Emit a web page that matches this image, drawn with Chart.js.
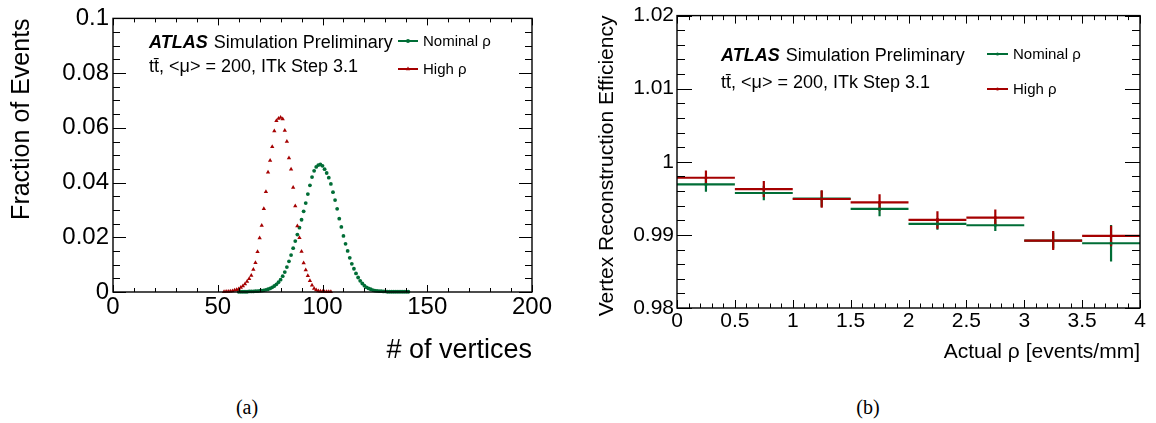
<!DOCTYPE html>
<html>
<head>
<meta charset="utf-8">
<script src="https://cdn.jsdelivr.net/npm/chart.js@4.4.1/dist/chart.umd.min.js"></script>
<style>
  body { margin: 0; background: #fff; width: 1156px; height: 423px; position: relative; overflow: hidden; }
  canvas { position: absolute; top: 0; }
  #ca { left: 0; }
  #cb { left: 580px; }
  .cap { position: absolute; top: 396px; width: 60px; text-align: center; font: 20px "Liberation Serif", "Times New Roman", serif; color: #000; }
</style>
</head>
<body>
<canvas id="ca" width="580" height="380"></canvas>
<canvas id="cb" width="576" height="380"></canvas>
<div class="cap" style="left:217px">(a)</div>
<div class="cap" style="left:838px">(b)</div>
<script>
// (a) number of reconstructed vertices, one point per bin
const vtxBinsNominal = [60, 61, 62, 63, 64, 65, 66, 67, 68, 69, 70, 71, 72, 73, 74, 75, 76, 77, 78, 79,
  80, 81, 82, 83, 84, 85, 86, 87, 88, 89, 90, 91, 92, 93, 94, 95, 96, 97, 98, 99,
  100, 101, 102, 103, 104, 105, 106, 107, 108, 109, 110, 111, 112, 113, 114, 115, 116, 117, 118, 119,
  120, 121, 122, 123, 124, 125, 126, 127, 128, 129, 130, 131, 132, 133, 134, 135, 136, 137, 138, 139, 140, 141]
const fracNominal = [0.0001, 0.0001, 0.0001, 0.0001, 0.0001,
  0.0002, 0.0002, 0.0002, 0.0003, 0.0003,
  0.0004, 0.0005, 0.0006, 0.0008, 0.0010,
  0.0013, 0.0017, 0.0022, 0.0028, 0.0036,
  0.0045, 0.0058, 0.0073, 0.0091, 0.0112,
  0.0135, 0.0160, 0.0186, 0.0210, 0.0235,
  0.0264, 0.0295, 0.0325, 0.0358, 0.0390,
  0.0420, 0.0443, 0.0457, 0.0464, 0.0466,
  0.0461, 0.0449, 0.0435, 0.0418, 0.0395,
  0.0365, 0.0336, 0.0304, 0.0268, 0.0238,
  0.0205, 0.0176, 0.0150, 0.0125, 0.0103,
  0.0085, 0.0068, 0.0053, 0.0041, 0.0031,
  0.0023, 0.0017, 0.0013, 0.0010, 0.0007,
  0.0005, 0.0004, 0.0003, 0.0003, 0.0002,
  0.0002, 0.0001, 0.0001, 0.0001, 0.0001,
  0.0001, 0.0001, 0.0001, 0.0001, 0.0001, 0.0001, 0.0001]
const vtxBinsHigh = [53, 54, 55, 56, 57, 58, 59, 60, 61, 62, 63, 64, 65, 66, 67, 68, 69, 70, 71, 72,
  73, 74, 75, 76, 77, 78, 79, 80, 81, 82, 83, 84, 85, 86, 87, 88, 89, 90, 91, 92,
  93, 94, 95, 96, 97, 98, 99, 100, 101, 102, 103, 104]
const fracHigh = [0.0001, 0.0002, 0.0002, 0.0003, 0.0004, 0.0006, 0.0008, 0.0011, 0.0016, 0.0022,
  0.0029, 0.0038, 0.0048, 0.0060, 0.0082, 0.0107, 0.0147, 0.0197, 0.0243, 0.0304,
  0.0366, 0.0438, 0.0481, 0.0531, 0.0588, 0.0626, 0.0634, 0.0638, 0.0632, 0.0590,
  0.0550, 0.0490, 0.0449, 0.0382, 0.0314, 0.0241, 0.0198, 0.0148, 0.0106, 0.0080,
  0.0059, 0.0041, 0.0025, 0.0013, 0.0007, 0.0004, 0.0003, 0.0002, 0.0001, 0.0001,
  0.0001, 0.0001]

// (b) efficiency vs actual rho
const rhoEdges = [0, 0.5, 1, 1.5, 2, 2.5, 3, 3.5, 4]
const effNominal = [0.99691, 0.99573, 0.99495, 0.99355, 0.99150, 0.99132, 0.98923, 0.98886]
const errNominal = [0.0010, 0.0010, 0.0011, 0.0010, 0.0008, 0.0008, 0.0011, 0.0025]
const effHigh = [0.99782, 0.99627, 0.99491, 0.99445, 0.99205, 0.99236, 0.98923, 0.98986]
const errHigh = [0.0010, 0.0011, 0.0012, 0.0011, 0.0012, 0.0011, 0.0013, 0.0014]

const GREEN = '#006d36'
const RED = '#a50000'
const FONT = '"Liberation Sans", Arial, Helvetica, sans-serif'

Chart.defaults.font.family = FONT
Chart.defaults.color = '#000'

const fmt = v => String(+v.toFixed(3))

// ROOT-like frame, inner ticks on all four sides, labels and legend
function drawTicks(ctx, scale, area, s, horizontal) {
  const n = Math.round((s.max - s.min) / s.minor)
  ctx.beginPath()
  for (let i = 0; i <= n; i++) {
    const v = s.min + i * s.minor
    const r = v / s.major
    const len = Math.abs(r - Math.round(r)) < 1e-6 ? s.majLen : s.minLen
    const p = Math.round(scale.getPixelForValue(v)) + 0.5
    if (horizontal) {
      ctx.moveTo(p, area.bottom); ctx.lineTo(p, area.bottom - len)
      ctx.moveTo(p, area.top); ctx.lineTo(p, area.top + len)
    } else {
      ctx.moveTo(area.left, p); ctx.lineTo(area.left + len, p)
      ctx.moveTo(area.right, p); ctx.lineTo(area.right - len, p)
    }
  }
  ctx.stroke()
}

const rootDeco = {
  id: 'rootDeco',
  beforeDatasetsDraw(chart) {
    const ctx = chart.ctx
    const xs = chart.scales.x, ys = chart.scales.y
    ctx.save()
    // nominal first, high on top
    chart.data.datasets.slice().reverse().forEach(ds => {
      if (!ds.binEdges) return
      ctx.strokeStyle = ds.borderColor
      ctx.lineWidth = 2.2
      ds.data.forEach((pt, i) => {
        const y = ys.getPixelForValue(pt.y)
        const xc = xs.getPixelForValue(pt.x)
        ctx.beginPath()
        ctx.moveTo(xs.getPixelForValue(ds.binEdges[i]), y)
        ctx.lineTo(xs.getPixelForValue(ds.binEdges[i + 1]), y)
        ctx.moveTo(xc, ys.getPixelForValue(pt.y + ds.yErr[i]))
        ctx.lineTo(xc, ys.getPixelForValue(pt.y - ds.yErr[i]))
        ctx.stroke()
      })
    })
    ctx.restore()
  },
  afterDraw(chart, args, o) {
    const ctx = chart.ctx
    const a = chart.chartArea
    ctx.save()
    ctx.strokeStyle = '#000'
    ctx.lineWidth = 1
    drawTicks(ctx, chart.scales.x, a, o.xt, true)
    drawTicks(ctx, chart.scales.y, a, o.yt, false)
    ctx.lineWidth = 1.4
    ctx.strokeRect(a.left, a.top, a.right - a.left, a.bottom - a.top)

    // ATLAS label
    ctx.fillStyle = '#000'
    ctx.textBaseline = 'alphabetic'
    ctx.textAlign = 'left'
    ctx.font = 'italic bold 18px ' + FONT
    ctx.fillText('ATLAS', o.tx, o.ty1)
    const w = ctx.measureText('ATLAS').width
    ctx.font = '18px ' + FONT
    ctx.fillText('Simulation Preliminary', o.tx + w + 6, o.ty1)
    ctx.fillText('tt\u0304, <\u03bc> = 200, ITk Step 3.1', o.tx, o.ty2)

    // legend
    ctx.font = '15px ' + FONT
    o.legend.forEach(it => {
      ctx.strokeStyle = it.color
      ctx.fillStyle = it.color
      ctx.lineWidth = 2
      ctx.beginPath()
      ctx.moveTo(o.lx0, it.y); ctx.lineTo(o.lx1, it.y)
      ctx.stroke()
      Chart.helpers.drawPoint(ctx, { pointStyle: it.style, radius: it.r, rotation: 0, borderWidth: 0 }, (o.lx0 + o.lx1) / 2, it.y)
      ctx.fillStyle = '#000'
      ctx.fillText(it.label, o.lx1 + 5, it.y + 5)
    })
    ctx.restore()
  }
}

new Chart(document.getElementById('ca'), {
  type: 'scatter',
  data: {
    datasets: [
      {
        label: 'High \u03c1',
        data: vtxBinsHigh.map((b, i) => ({ x: b, y: fracHigh[i] })),
        pointStyle: 'triangle',
        pointRadius: 2.5,
        backgroundColor: RED,
        borderColor: RED,
        borderWidth: 0
      },
      {
        label: 'Nominal \u03c1',
        data: vtxBinsNominal.map((b, i) => ({ x: b, y: fracNominal[i] })),
        pointStyle: 'circle',
        pointRadius: 1.9,
        backgroundColor: GREEN,
        borderColor: GREEN,
        borderWidth: 0
      }
    ]
  },
  options: {
    responsive: false,
    animation: false,
    clip: false,
    layout: { padding: { top: 14.5, right: 48, left: 0, bottom: 0 } },
    plugins: {
      legend: { display: false },
      tooltip: { enabled: false },
      rootDeco: {
        xt: { min: 0, max: 200, major: 50, minor: 10, majLen: 7, minLen: 4 },
        yt: { min: 0, max: 0.1, major: 0.02, minor: 0.005, majLen: 13, minLen: 7 },
        tx: 149, ty1: 48, ty2: 72,
        lx0: 398, lx1: 418,
        legend: [
          { label: 'Nominal \u03c1', color: GREEN, style: 'circle', r: 2, y: 41 },
          { label: 'High \u03c1', color: RED, style: 'triangle', r: 2.5, y: 69 }
        ]
      }
    },
    scales: {
      x: {
        type: 'linear', min: 0, max: 200,
        afterFit: s => { s.height = 88 },
        grid: { display: false, drawTicks: false },
        border: { display: false },
        ticks: { stepSize: 50, autoSkip: false, maxRotation: 0, padding: 1, font: { size: 24 }, callback: fmt },
        title: { display: true, text: '# of vertices', align: 'end', font: { size: 27 }, padding: { top: 0, bottom: 13 } }
      },
      y: {
        type: 'linear', min: 0, max: 0.1,
        afterFit: s => { s.width = 113 },
        grid: { display: false, drawTicks: false },
        border: { display: false },
        ticks: { stepSize: 0.02, autoSkip: false, padding: 4, font: { size: 24 }, callback: fmt },
        title: { display: true, text: 'Fraction of Events', align: 'end', font: { size: 25 }, padding: { top: 7, bottom: 0 } }
      }
    }
  },
  plugins: [rootDeco]
})

const binCentre = i => (rhoEdges[i] + rhoEdges[i + 1]) / 2

new Chart(document.getElementById('cb'), {
  type: 'scatter',
  data: {
    datasets: [
      {
        label: 'High \u03c1',
        data: effHigh.map((v, i) => ({ x: binCentre(i), y: v })),
        binEdges: rhoEdges,
        yErr: errHigh,
        pointRadius: 1.6,
        backgroundColor: RED,
        borderColor: RED,
        borderWidth: 0
      },
      {
        label: 'Nominal \u03c1',
        data: effNominal.map((v, i) => ({ x: binCentre(i), y: v })),
        binEdges: rhoEdges,
        yErr: errNominal,
        pointRadius: 1.6,
        backgroundColor: GREEN,
        borderColor: GREEN,
        borderWidth: 0
      }
    ]
  },
  options: {
    responsive: false,
    animation: false,
    layout: { padding: { top: 14.3, right: 16, left: 0, bottom: 0 } },
    plugins: {
      legend: { display: false },
      tooltip: { enabled: false },
      rootDeco: {
        xt: { min: 0, max: 4, major: 0.5, minor: 0.1, majLen: 8, minLen: 4.5 },
        yt: { min: 0.98, max: 1.02, major: 0.01, minor: 0.002, majLen: 15, minLen: 8 },
        tx: 141, ty1: 61, ty2: 88,
        lx0: 407, lx1: 428,
        legend: [
          { label: 'Nominal \u03c1', color: GREEN, style: 'circle', r: 1.6, y: 54 },
          { label: 'High \u03c1', color: RED, style: 'circle', r: 1.6, y: 89 }
        ]
      }
    },
    scales: {
      x: {
        type: 'linear', min: 0, max: 4,
        afterFit: s => { s.height = 72 },
        grid: { display: false, drawTicks: false },
        border: { display: false },
        ticks: { stepSize: 0.5, autoSkip: false, maxRotation: 0, padding: 1, font: { size: 21 }, callback: fmt },
        title: { display: true, text: 'Actual \u03c1 [events/mm]', align: 'end', font: { size: 21 }, padding: { top: 0, bottom: 15 } }
      },
      y: {
        type: 'linear', min: 0.98, max: 1.02,
        afterFit: s => { s.width = 97 },
        grid: { display: false, drawTicks: false },
        border: { display: false },
        ticks: { stepSize: 0.01, autoSkip: false, padding: 3, font: { size: 21 }, callback: fmt },
        title: { display: true, text: 'Vertex Reconstruction Efficiency', align: 'end', font: { size: 21 }, padding: { top: 15, bottom: 0 } }
      }
    }
  },
  plugins: [rootDeco]
})
</script>
</body>
</html>
